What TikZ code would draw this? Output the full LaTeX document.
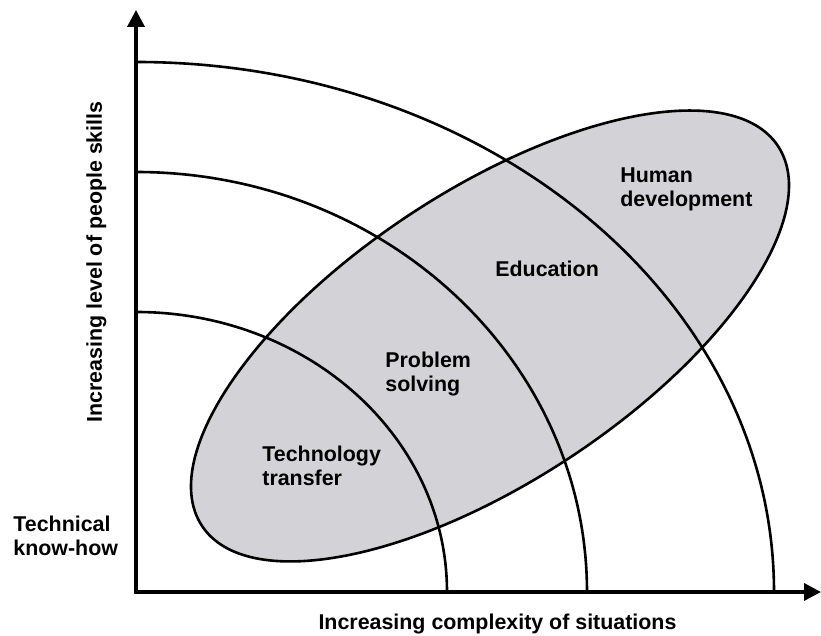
\documentclass[tikz,border=0pt]{standalone}
\usepackage{fontspec}
\setmainfont{Liberation Sans}
\usetikzlibrary{arrows.meta, positioning}
\definecolor{zonegray}{RGB}{211,211,215}
\tikzset{zlab/.style={inner sep=0pt, align=left, font=\fontsize{10.7}{12}\selectfont\bfseries}}
\tikzset{zarc/.style={line width=1.3pt}}
\tikzset{zaxis/.style={line width=1.8pt, {Triangle[length=8.5pt, width=8.5pt]}-{Triangle[length=8.5pt, width=8.5pt]}}}

\begin{document}
\begin{tikzpicture}[x=0.5pt, y=0.5pt]
    \useasboundingbox (-136,-44) rectangle (685,592);
    \coordinate (orig) at (0,0);
    \coordinate (ytop) at (0,582);
    \coordinate (xend) at (685,0);

    % shaded zone
    \fill[zonegray, rotate around={33.4:(354,256)}] (354,256) ellipse [x radius=345, y radius=145.5];

    % levels
    \foreach \rx/\ry in {311/280, 451/420, 638/530}
        \draw[zarc] (0,\ry) arc[start angle=90, end angle=0, x radius=\rx, y radius=\ry];

    \draw[zarc, rotate around={33.4:(354,256)}] (354,256) ellipse [x radius=345, y radius=145.5];

    \draw[zaxis] (ytop) -- (orig) -- (xend);

    \node[zlab, anchor=base west] (techknow) at (-123,36) {Technical\\know-how};
    \node[zlab, anchor=base west] (techtr) at (126,106) {Technology\\transfer};
    \node[zlab, anchor=base west] (probsol) at (249,200) {Problem\\solving};
    \node[zlab, anchor=base west] (educ) at (359,315) {Education};
    \node[zlab, anchor=base west] (humdev) at (484,385) {Human\\development};

    \node[zlab, anchor=base] (xlab) at (361.5,-38) {Increasing complexity of situations};
    \node[zlab, anchor=base, rotate=90] (ylab) at (-34,330) {Increasing level of people skills};
\end{tikzpicture}
\end{document}
